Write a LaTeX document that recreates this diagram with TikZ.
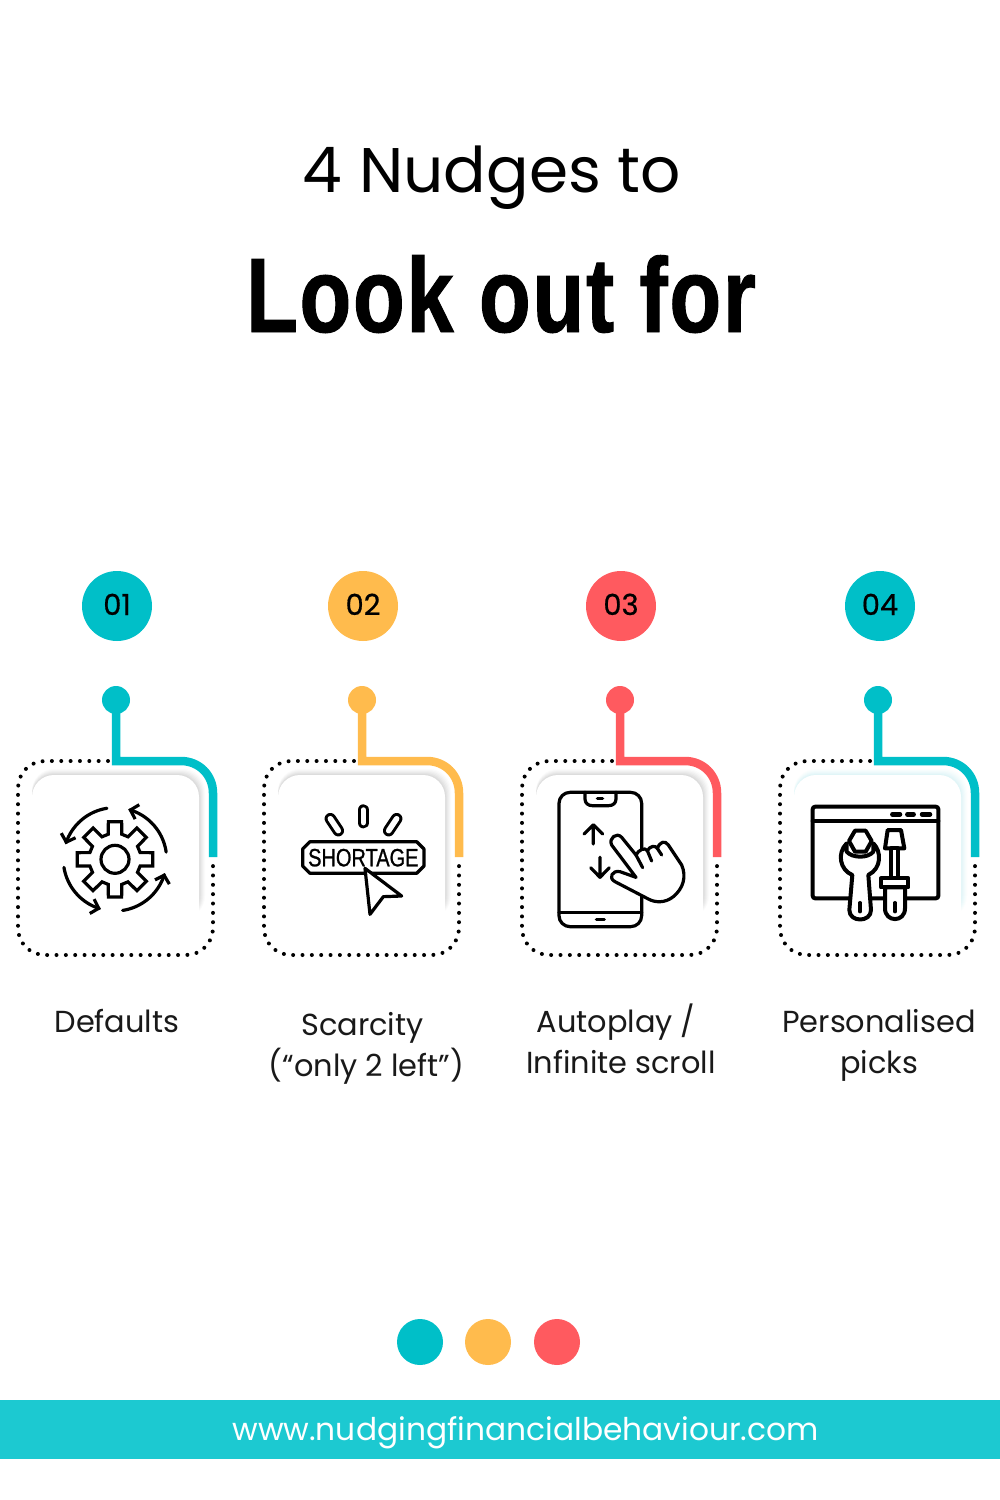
\documentclass[tikz,border=0pt]{standalone}
\usepackage{fontspec}
\usetikzlibrary{arrows.meta}
\newfontfamily\popfont{Poppins}
\newfontfamily\numfont[FakeBold=0.6]{Poppins}
\newfontfamily\headfont[FakeStretch=0.8,LetterSpace=1.6,FakeBold=0.9]{Liberation Sans}
\newfontfamily\shortfont[FakeStretch=0.8,FakeBold=0.9]{Liberation Sans}
\definecolor{tealc}{HTML}{00BFC8}
\definecolor{amberc}{HTML}{FFBB4D}
\definecolor{redc}{HTML}{FF5A5F}
\definecolor{bandc}{HTML}{1CC9D1}
\definecolor{greysh}{HTML}{8A8A8A}
\definecolor{tealsh}{HTML}{9FE8EC}
\tikzset{
  lab/.style={anchor=base,inner sep=0pt,font=\popfont\fontsize{30.4}{36}\selectfont,text=black!90},
  num/.style={anchor=base,inner sep=0pt,font=\numfont\fontsize{29}{36}\selectfont,text=black},
  badge/.style={circle,inner sep=0pt,minimum size=70pt},
  pin/.style={circle,inner sep=0pt,minimum size=28pt},
  footdot/.style={circle,inner sep=0pt,minimum size=46pt},
  ic/.style={line width=3.2pt,line join=round,line cap=round,draw=black},
  icw/.style={ic,fill=white},
  zoomed/.style={x=0.33333pt,y=-0.33333pt},
  archead/.style={-{Straight Barb[length=7pt,width=15pt]}},
}
% #1 stem x, #2 colour, #3 shadow colour, #4 tag
\newcommand{\nudgecard}[4]{%
  \foreach \i/\o in {6/.03,5/.04,4/.05,3/.06,2/.07,1/.08}{
    \fill[#3,opacity=\o,rounded corners=22pt] ({#1-84},{775-\i}) rectangle ({#1+83+\i},{918});
  }
  \fill[white,rounded corners=22pt] ({#1-84},775) rectangle ({#1+83},943);
  \node[pin,fill=#2] (pin#4) at (#1,700) {};
  \coordinate (corner#4) at (#1,761);
  \coordinate (bend#4) at ({#1+65},761);
  \coordinate (end#4) at ({#1+97},857);
  \draw[line width=4pt,line cap=round,dash pattern=on 0pt off 9.35pt,rounded corners=27pt]
    ({#1-8},761) -- ({#1-98},761) -- ({#1-98},955) -- ({#1+97},955) -- ({#1+97},861);
  \draw[#2,line width=8.5pt,miter limit=10] (pin#4.center) -- (corner#4) -- (bend#4)
    .. controls ({#1+83},761) and ({#1+97},775) .. ({#1+97},793) -- (end#4);
}
\newcommand{\gear}{%
  \draw[ic,line join=miter] (-15:78)
    \foreach \a in {0,45,...,315}{ -- ({\a-15}:78) -- ({\a-10}:114.7) -- ({\a+10}:114.7) -- ({\a+15}:78) } -- cycle;
  \draw[ic] (0,0) circle[radius=42];
}
\newcommand{\ringarrow}[2]{%
  \draw[ic,archead] plot[domain=#1:#2,samples=24,smooth] ({155*cos(\x)},{155*sin(\x)});
}
\newcommand{\pill}[4]{%
  \draw[line width=11.5pt,line cap=round,black] (#1,#2) -- (#3,#4);
  \draw[line width=5.5pt,line cap=round,white] (#1,#2) -- (#3,#4);
}
\begin{document}
\begin{tikzpicture}[x=1pt,y=-1pt]
\useasboundingbox (0,0) rectangle (1000,1500);
\fill[white] (0,0) rectangle (1000,1500);

\node[anchor=base,inner sep=0pt,font=\popfont\fontsize{63}{70}\selectfont] (t1) at (492,192) {4 Nudges to};
\node[anchor=base,inner sep=0pt,font=\headfont\bfseries\fontsize{106}{110}\selectfont] (t2) at (501,332) {Look out for};

\node[badge,fill=tealc] (b1) at (117,606) {};
\node[badge,fill=amberc] (b2) at (363,606) {};
\node[badge,fill=redc] (b3) at (621,606) {};
\node[badge,fill=tealc] (b4) at (880,606) {};
\node[num] (n1) at (117,615) {01};
\node[num] (n2) at (363,615) {02};
\node[num] (n3) at (621,615) {03};
\node[num] (n4) at (880,615) {04};

\nudgecard{116}{tealc}{greysh}{1}
\nudgecard{362}{amberc}{greysh}{2}
\nudgecard{620}{redc}{greysh}{3}
\nudgecard{878}{tealc}{tealsh}{4}

% icon 1: gear with four ring arrows
\begin{scope}[shift={(115,859.3)},zoomed]
  \gear
  \ringarrow{-99}{-163}
  \ringarrow{-8}{-75}
  \ringarrow{171}{106}
  \ringarrow{81.5}{15.6}
\end{scope}

% icon 2: shortage banner and cursor
\begin{scope}[shift={(250,680)},zoomed]
  \pill{241}{416}{265}{452}
  \pill{340}{390}{340}{428}
  \pill{440}{416}{416}{452}
  \draw[ic] (180,485) -- (500,485) -- (522,507) -- (522,558) -- (500,580) -- (180,580) -- (158,558) -- (158,507) -- cycle;
  \node[inner sep=0pt,font=\shortfont\fontsize{25}{25}\selectfont] (shortage) at (340,533) {SHORTAGE};
  \draw[icw] (345,565) -- (455,648) -- (400,650) -- (360,703) -- cycle;
\end{scope}

% icon 3: phone and hand
\begin{scope}[shift={(510,680)},zoomed]
  \draw[ic,rounded corners=11pt,fill=white] (147,337) rectangle (395,740);
  \draw[ic] (225,337) -- (225,357) .. controls (225,370) and (235,377) .. (247,377) -- (296,377) .. controls (308,377) and (318,370) .. (318,357) -- (318,337);
  \draw[ic] (262,356) -- (278,356);
  \draw[ic] (147,697) -- (395,697);
  \draw[ic] (259,718) -- (283,718);
  \draw[ic] (250,492) -- (250,436) (222,462) -- (250,434) -- (278,462);
  \draw[ic] (270,532) -- (270,590) (242,563) -- (270,592) -- (298,563);
  \draw[icw] (378,592) -- (305,495) .. controls (295,475) and (320,455) .. (335,472) -- (378,525)
    .. controls (385,510) and (405,500) .. (412,512)
    .. controls (420,498) and (435,495) .. (442,505)
    .. controls (450,485) and (465,480) .. (475,495)
    -- (515,555) .. controls (530,590) and (520,625) .. (490,650)
    .. controls (465,670) and (435,668) .. (415,657)
    -- (315,605) .. controls (295,595) and (305,570) .. (330,575) -- cycle;
  \draw[ic] (378,525) -- (398,563) (412,512) -- (425,543) (442,505) -- (455,525);
\end{scope}

% icon 4: window with wrench and screwdriver
\begin{scope}[shift={(765,680)},zoomed]
  \draw[icw,line width=4pt,rounded corners=2.5pt] (143,380) rectangle (520,655);
  \draw[ic,line width=4pt] (143,423) -- (520,423);
  \draw[ic,line width=4.5pt] (382,403) -- (405,403) (427,403) -- (446,403) (471,403) -- (495,403);
  % screwdriver
  \draw[icw,line width=4pt] (368,450) -- (408,450) -- (418,505) -- (360,505) -- cycle;
  \draw[icw,line width=4pt] (378,505) rectangle (398,595);
  \draw[icw,line width=4pt] (360,622) -- (360,685) .. controls (360,728) and (420,728) .. (420,685) -- (420,622) -- cycle;
  \draw[icw,line width=4pt] (348,595) rectangle (430,622);
  \draw[ic,line width=3.4pt] (390,668) -- (390,695);
  % wrench
  \draw[icw,line width=4pt] (245,490) .. controls (215,520) and (225,570) .. (262,585)
    -- (253,690) .. controls (253,728) and (318,728) .. (318,690) -- (310,585)
    .. controls (350,565) and (350,515) .. (325,490) -- (325,515)
    .. controls (310,535) and (262,535) .. (245,515) -- cycle;
  \draw[icw,line width=4pt] (252,483) -- (270,452) -- (302,452) -- (320,483) -- (302,515) -- (270,515) -- cycle;
  \draw[ic,line width=3.4pt] (285,668) -- (285,695);
\end{scope}

\node[lab] (l1) at (117,1032) {Defaults};
\node[lab] (l2a) at (362.5,1035) {Scarcity};
\node[lab] (l2b) at (366.5,1076) {(“only 2 left”)};
\node[lab] (l3a) at (616,1032) {Autoplay /};
\node[lab] (l3b) at (621,1073) {Infinite scroll};
\node[lab] (l4a) at (879,1032) {Personalised};
\node[lab] (l4b) at (879,1073) {picks};

\node[footdot,fill=tealc] (f1) at (420,1342) {};
\node[footdot,fill=amberc] (f2) at (488,1342) {};
\node[footdot,fill=redc] (f3) at (557,1342) {};

\fill[bandc] (0,1400) rectangle (1000,1459);
\node[anchor=base,inner sep=0pt,text=white,font=\popfont\fontsize{31.3}{36}\selectfont] (url) at (525.5,1440) {www.nudgingfinancialbehaviour.com};
\end{tikzpicture}
\end{document}
